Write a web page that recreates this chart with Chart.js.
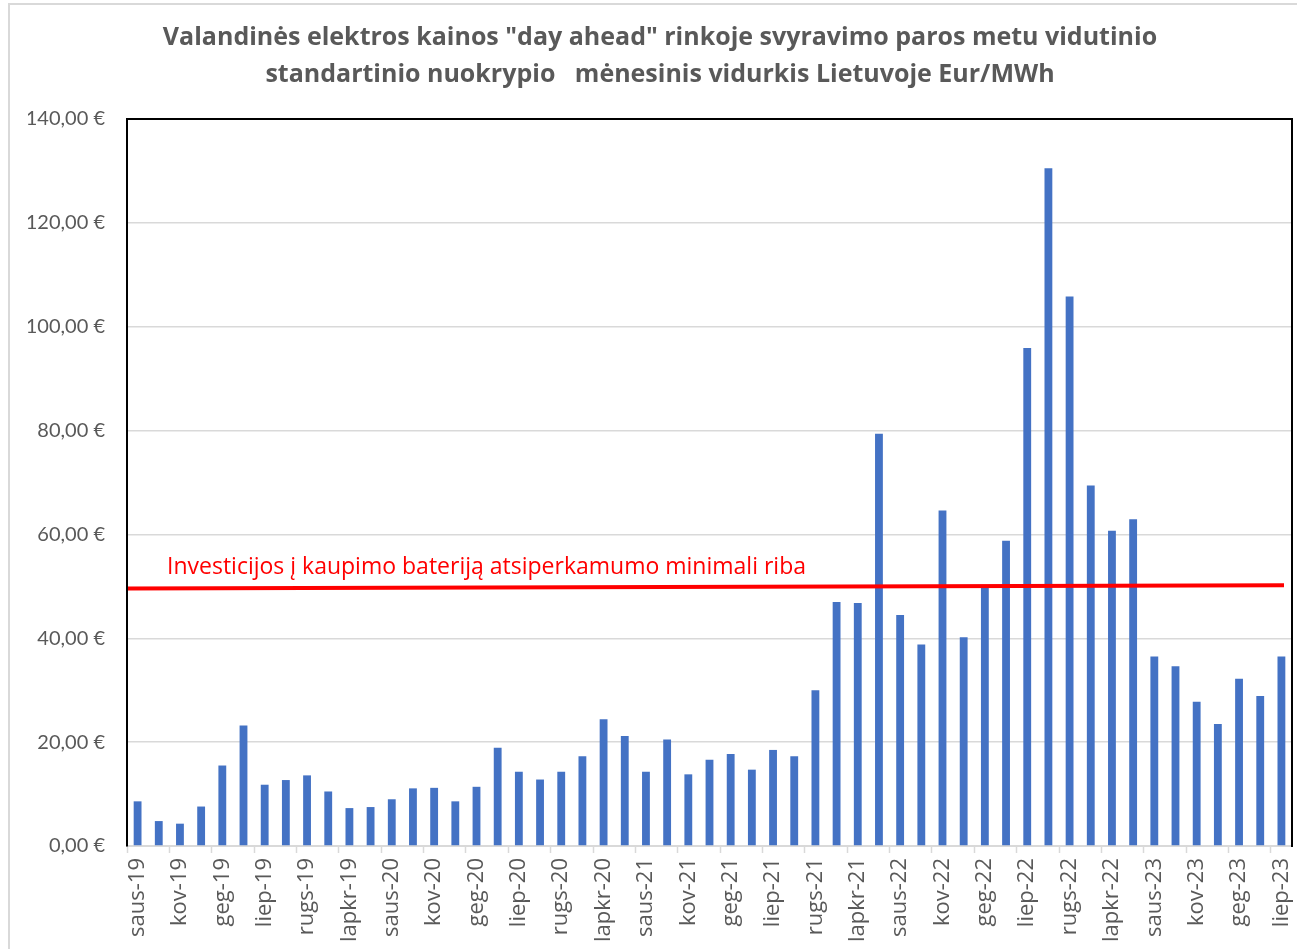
<!DOCTYPE html>
<html>
<head>
<meta charset="utf-8">
<script src="https://cdn.jsdelivr.net/npm/chart.js@4.4.1/dist/chart.umd.min.js"></script>
<style>
  html, body { margin: 0; padding: 0; background: #ffffff; }
  #wrap { position: relative; width: 1297px; height: 949px; }
  canvas { display: block; }
</style>
</head>
<body>
<div id="wrap"><canvas id="c" width="1297" height="949"></canvas></div>
<script>
// Month abbreviations (Lithuanian) and covered years
const monthAbbr = ['saus', 'vas', 'kov', 'bal', 'geg', 'birž', 'liep', 'rugp', 'rugs', 'spal', 'lapkr', 'gruod'];
const years = ['19', '20', '21', '22', '23'];
const lastYearMonths = 7; // data runs through July 2023

// Category labels: saus-19 ... liep-23
const categories = [];
years.forEach((y, yi) => {
  const n = yi === years.length - 1 ? lastYearMonths : 12;
  for (let m = 0; m < n; m++) categories.push(monthAbbr[m] + '-' + y);
});

// Monthly average of the daily standard deviation of hourly prices, EUR/MWh
const values2019 = [8.6, 4.8, 4.3, 7.6, 15.5, 23.2, 11.8, 12.7, 13.6, 10.5, 7.3, 7.5];
const values2020 = [9.0, 11.1, 11.2, 8.6, 11.4, 18.9, 14.3, 12.8, 14.3, 17.3, 24.4, 21.2];
const values2021 = [14.3, 20.5, 13.8, 16.6, 17.7, 14.7, 18.5, 17.3, 30.0, 47.0, 46.8, 79.4];
const values2022 = [44.5, 38.8, 64.6, 40.2, 49.8, 58.8, 95.9, 130.5, 105.8, 69.4, 60.7, 62.9];
const values2023 = [36.5, 34.6, 27.8, 23.5, 32.2, 28.9, 36.5];
const deviationValues = [].concat(values2019, values2020, values2021, values2022, values2023);

// Battery payback threshold (value at the left end and at the right end of the line)
const thresholdValues = [49.6, 50.2];
const thresholdLabel = 'Investicijos į kaupimo bateriją atsiperkamumo minimali riba';
const thresholdLabelValue = 53.6;

// Y axis ticks
const yTickValues = [0, 20, 40, 60, 80, 100, 120, 140];

const titleLines = [
  'Valandinės elektros kainos "day ahead" rinkoje svyravimo paros metu vidutinio',
  'standartinio nuokrypio   mėnesinis vidurkis Lietuvoje Eur/MWh'
];

const textGray = '#595959';
const fontLato = 'Lato, "Open Sans", "Liberation Sans", sans-serif';
const fontOpen = '"Open Sans", Lato, "Liberation Sans", sans-serif';

const euroFmt = v => v.toFixed(2).replace('.', ',') + ' €';

// Outer light frame, plot frame (top/right), threshold line and its caption
const decorPlugin = {
  id: 'decor',
  beforeDraw(chart) {
    const ctx = chart.ctx;
    ctx.save();
    ctx.fillStyle = '#ffffff';
    ctx.fillRect(0, 0, chart.width, chart.height);
    ctx.strokeStyle = '#d9d9d9';
    ctx.lineWidth = 2;
    ctx.beginPath();
    ctx.moveTo(9, chart.height);
    ctx.lineTo(9, 4);
    ctx.lineTo(chart.width, 4);
    ctx.stroke();
    ctx.restore();
  },
  afterDatasetsDraw(chart) {
    const ctx = chart.ctx;
    const a = chart.chartArea;
    const ys = chart.scales.y;
    ctx.save();
    ctx.strokeStyle = '#000000';
    ctx.lineWidth = 2;
    ctx.beginPath();
    ctx.moveTo(a.left, a.top);
    ctx.lineTo(a.right, a.top);
    ctx.lineTo(a.right, a.bottom + 1);
    ctx.stroke();

    // threshold line across the plot
    ctx.strokeStyle = '#ff0000';
    ctx.lineWidth = 4;
    ctx.beginPath();
    ctx.moveTo(a.left + 1, ys.getPixelForValue(thresholdValues[0]));
    ctx.lineTo(a.right - 8, ys.getPixelForValue(thresholdValues[1]));
    ctx.stroke();

    ctx.fillStyle = '#ff0000';
    ctx.font = '23px ' + fontOpen;
    ctx.textAlign = 'left';
    ctx.textBaseline = 'middle';
    ctx.fillText(thresholdLabel, a.left + 40, ys.getPixelForValue(thresholdLabelValue));
    ctx.restore();
  }
};

new Chart(document.getElementById('c'), {
  type: 'bar',
  data: {
    labels: categories,
    datasets: [
      {
        label: 'Standartinis nuokrypis',
        data: deviationValues,
        backgroundColor: '#4472c4',
        borderWidth: 0,
        categoryPercentage: 1,
        barPercentage: 0.37
      }
    ]
  },
  plugins: [decorPlugin],
  options: {
    responsive: false,
    animation: false,
    layout: { padding: { left: 28, right: 5, top: 0, bottom: 0 } },
    plugins: {
      legend: { display: false },
      tooltip: { enabled: false },
      title: {
        display: true,
        text: titleLines,
        color: textGray,
        font: { family: fontOpen, size: 25, weight: 'bold', lineHeight: 1.48 },
        padding: { top: 19, bottom: 26 }
      }
    },
    scales: {
      x: {
        type: 'category',
        offset: true,
        grid: {
          offset: true,
          drawOnChartArea: false,
          drawTicks: true,
          tickLength: 7,
          tickWidth: 1.5,
          tickColor: ctx => (ctx.index % 2 === 0 ? '#d9d9d9' : 'rgba(0,0,0,0)')
        },
        border: { display: true, color: '#d9d9d9', width: 2 },
        ticks: {
          autoSkip: false,
          maxRotation: 90,
          minRotation: 90,
          padding: 5,
          color: textGray,
          font: { family: fontOpen, size: 22 },
          callback: function (val, idx) { return idx % 2 === 0 ? this.getLabelForValue(val) : ''; }
        },
        afterFit(scale) {
          scale.height = 103;
          scale.paddingLeft = 0;
          scale.paddingRight = 0;
        }
      },
      y: {
        min: 0,
        max: 140,
        afterBuildTicks(scale) { scale.ticks = yTickValues.map(v => ({ value: v })); },
        grid: { color: '#d9d9d9', lineWidth: 1.5, drawTicks: false },
        border: { display: true, color: '#000000', width: 2 },
        ticks: {
          padding: 22,
          color: textGray,
          font: { family: fontLato, size: 20 },
          callback: v => euroFmt(v)
        },
        afterFit(scale) { scale.width = 99; }
      }
    }
  }
});
</script>
</body>
</html>
